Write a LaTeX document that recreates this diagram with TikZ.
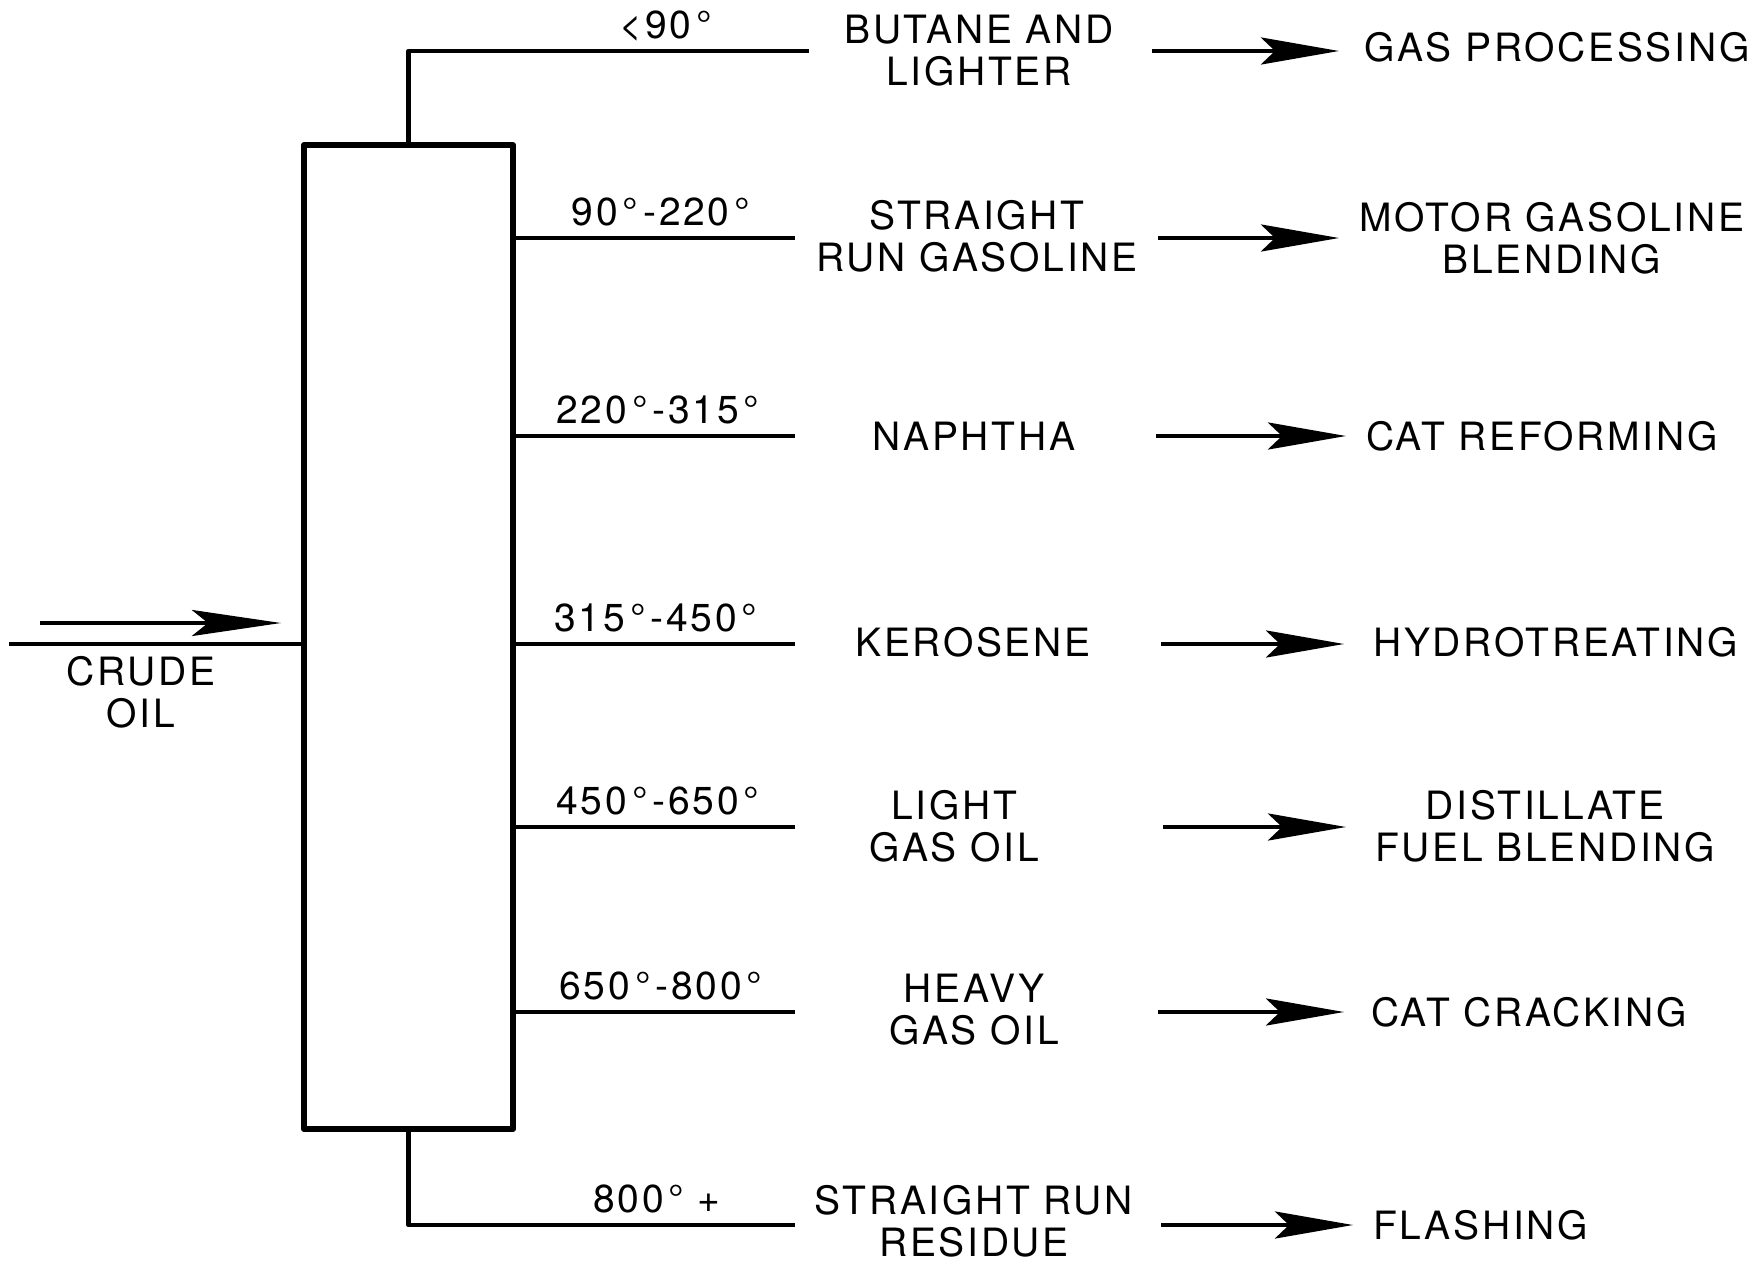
\documentclass[tikz,border=0pt]{standalone}
\usepackage{fontspec}
\setmainfont[LetterSpace=7]{TeX Gyre Heros}
\usetikzlibrary{arrows.meta,positioning}
\newcommand{\degr}{\hspace{5pt}°}
\newcommand{\tsep}{\hspace{5pt}-}
\tikzset{
  >={Stealth[length=78pt,width=27pt,inset=14pt]},
  every node/.style={font=\fontsize{39}{42}\selectfont,text=black,inner sep=0pt},
  column/.style={draw,line width=6pt,minimum width=209pt,minimum height=984pt,line join=round},
  pipe/.style={line width=4.5pt,line join=round},
  flow/.style={->,line width=4.5pt},
  feedarr/.style={-{Stealth[length=89pt,width=26pt,inset=16pt]},line width=4.5pt},
  temp/.style={anchor=base},
  product/.style={align=center},
  dest/.style={align=center,anchor=west},
}

\begin{document}
\begin{tikzpicture}[x=1pt,y=-1pt]
\useasboundingbox (0,0) rectangle (1750,1263);

% column and feed
\node[column] (col) at (408.5,637) {};
\coordinate (feedL) at (9,644);
\draw[pipe] (feedL) -- (feedL -| col.west);
\coordinate (feedA) at (40,623);
\coordinate (feedB) at (281,623);
\draw[feedarr] (feedA) -- (feedB);
\node[product] (crude) at (141,692) {CRUDE\\OIL};

% overhead and bottoms
\coordinate (ovhd) at (809,51);
\draw[pipe] (col.north) |- (ovhd);
\coordinate (btms) at (795,1225);
\draw[pipe] (col.south) |- (btms);

% side draws
\foreach \i/\y in {1/238, 2/436, 3/644, 4/827, 5/1012}{
  \coordinate (s\i) at (795,\y);
  \draw[pipe] (s\i -| col.east) -- (s\i);
}

% cut temperatures
\node[temp] (t0) at (666,39) {<90\degr};
\node[temp] (t1) at (661,225) {90\degr\tsep220\degr};
\node[temp] (t2) at (658,423) {220\degr\tsep315\degr};
\node[temp] (t3) at (656,631) {315\degr\tsep450\degr};
\node[temp] (t4) at (658,814) {450\degr\tsep650\degr};
\node[temp] (t5) at (661,999) {650\degr\tsep800\degr};
\node[temp] (t6) at (657,1212) {800\degr\ +};

% products
\node[product] (butane) at (979,51) {BUTANE AND\\LIGHTER};
\node[product] (srgas) at (977,236) {STRAIGHT\\RUN GASOLINE};
\node[product] (naph) at (974,436) {NAPHTHA};
\node[product] (kero) at (973,642) {KEROSENE};
\node[product] (lgo) at (954,826) {LIGHT\\GAS OIL};
\node[product] (hgo) at (974,1010) {HEAVY\\GAS OIL};
\node[product] (resid) at (974,1221) {STRAIGHT RUN\\RESIDUE};

% destinations
\node[dest] (gasproc) at (1364,47) {GAS PROCESSING};
\node[dest] (mogas) at (1359,238) {MOTOR GASOLINE\\BLENDING};
\node[dest] (reform) at (1366,436) {CAT REFORMING};
\node[dest] (hydro) at (1373,642) {HYDROTREATING};
\node[dest] (distil) at (1375,826) {DISTILLATE\\FUEL BLENDING};
\node[dest] (crack) at (1371,1012) {CAT CRACKING};
\node[dest] (flash) at (1373,1225) {FLASHING};

% arrows to downstream units
\coordinate (a0) at (1152,51);
\coordinate (a1) at (1158,238);
\coordinate (a2) at (1156,436);
\coordinate (a3) at (1161,644);
\coordinate (a4) at (1163,827);
\coordinate (a5) at (1158,1012);
\coordinate (a6) at (1161,1225);
\draw[flow,shorten >=25pt] (a0) -- (a0 -| gasproc.west);
\draw[flow,shorten >=20pt] (a1) -- (a1 -| mogas.west);
\draw[flow,shorten >=20pt] (a2) -- (a2 -| reform.west);
\draw[flow,shorten >=29pt] (a3) -- (a3 -| hydro.west);
\draw[flow,shorten >=29pt] (a4) -- (a4 -| distil.west);
\draw[flow,shorten >=27pt] (a5) -- (a5 -| crack.west);
\draw[flow,shorten >=20pt] (a6) -- (a6 -| flash.west);

\end{tikzpicture}
\end{document}
